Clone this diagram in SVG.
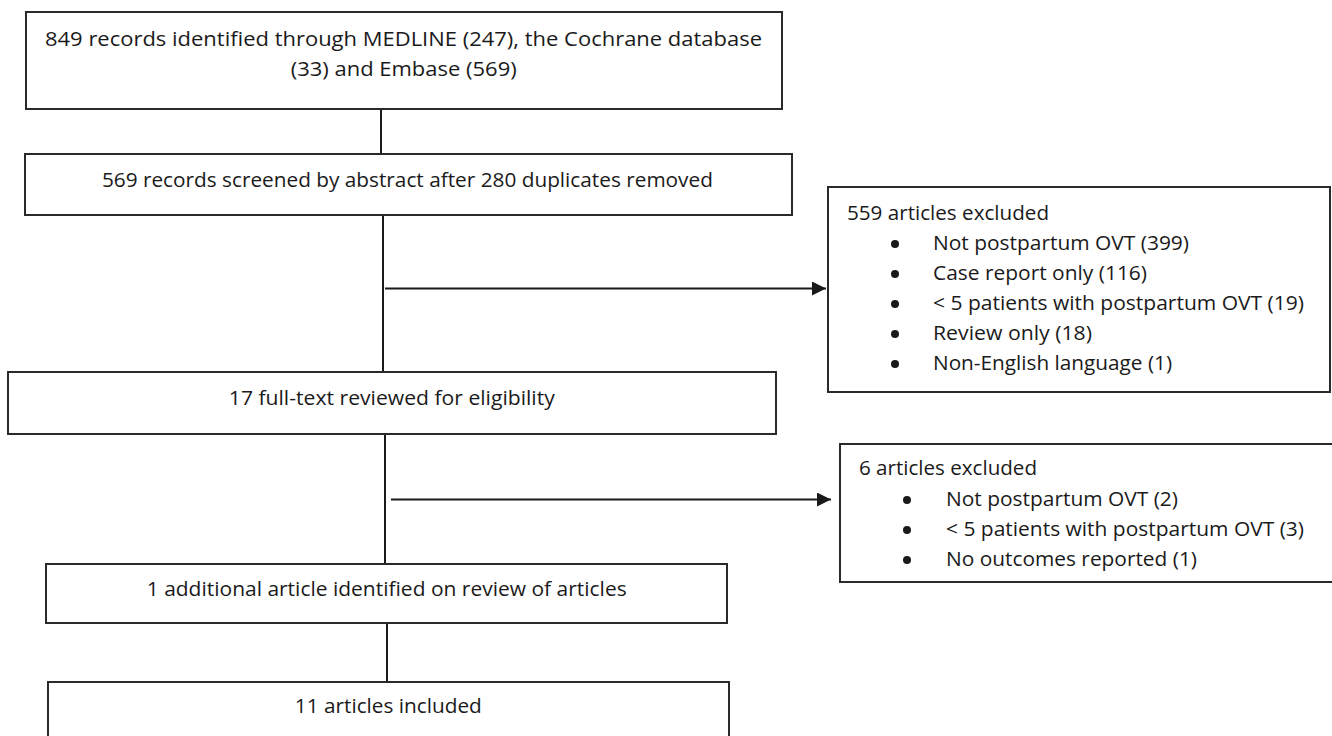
<svg xmlns="http://www.w3.org/2000/svg" width="1332" height="736" viewBox="0 0 1332 736">
  <defs>
    <marker id="arrow" markerUnits="userSpaceOnUse" markerWidth="15" markerHeight="15" refX="14" refY="7" orient="auto">
      <path d="M0,0 L14,7 L0,14 z" fill="#1a1a1a"/>
    </marker>
    <style>
      .box { fill: #ffffff; stroke: #2a2a2a; stroke-width: 2; }
      .conn { stroke: #1a1a1a; stroke-width: 2; fill: none; }
      .t { font-family: "Open Sans", "Liberation Sans", Arial, sans-serif; font-size: 19.6px; fill: #1a1a1a; }
      .tc { text-anchor: middle; }
      .dot { fill: #1a1a1a; }
    </style>
  </defs>
  <rect x="0" y="0" width="1332" height="736" fill="#ffffff"/>

  <g id="connectors">
    <line class="conn" x1="381" y1="109" x2="381" y2="154"/>
    <line class="conn" x1="383" y1="215" x2="383" y2="372"/>
    <line class="conn" x1="385" y1="288.5" x2="826" y2="288.5" marker-end="url(#arrow)"/>
    <line class="conn" x1="385" y1="434" x2="385" y2="564"/>
    <line class="conn" x1="391" y1="499.5" x2="831" y2="499.5" marker-end="url(#arrow)"/>
    <line class="conn" x1="387" y1="623" x2="387" y2="682"/>
  </g>

  <g id="node-identified">
    <rect class="box" x="26" y="12" width="756" height="97"/>
    <text class="t tc" x="403.5" y="46" textLength="717" lengthAdjust="spacingAndGlyphs">849 records identified through MEDLINE (247), the Cochrane database</text>
    <text class="t tc" x="403.7" y="76" textLength="226" lengthAdjust="spacingAndGlyphs">(33) and Embase (569)</text>
  </g>

  <g id="node-screened">
    <rect class="box" x="25" y="154" width="767" height="61"/>
    <text class="t tc" x="407.4" y="186.5" textLength="611" lengthAdjust="spacingAndGlyphs">569 records screened by abstract after 280 duplicates removed</text>
  </g>

  <g id="node-excluded-559">
    <rect class="box" x="828" y="187" width="502" height="205"/>
    <text class="t" x="847" y="220" textLength="202" lengthAdjust="spacingAndGlyphs">559 articles excluded</text>
    <circle class="dot" cx="895" cy="244" r="4"/>
    <text class="t" x="933" y="250" textLength="256" lengthAdjust="spacingAndGlyphs">Not postpartum OVT (399)</text>
    <circle class="dot" cx="895" cy="274" r="4"/>
    <text class="t" x="933" y="280" textLength="214" lengthAdjust="spacingAndGlyphs">Case report only (116)</text>
    <circle class="dot" cx="895" cy="304" r="4"/>
    <text class="t" x="933" y="310" textLength="371" lengthAdjust="spacingAndGlyphs">&lt; 5 patients with postpartum OVT (19)</text>
    <circle class="dot" cx="895" cy="334" r="4"/>
    <text class="t" x="933" y="340" textLength="159" lengthAdjust="spacingAndGlyphs">Review only (18)</text>
    <circle class="dot" cx="895" cy="364" r="4"/>
    <text class="t" x="933" y="370" textLength="239" lengthAdjust="spacingAndGlyphs">Non-English language (1)</text>
  </g>

  <g id="node-fulltext">
    <rect class="box" x="8" y="372" width="768" height="62"/>
    <text class="t tc" x="391.8" y="405" textLength="326" lengthAdjust="spacingAndGlyphs">17 full-text reviewed for eligibility</text>
  </g>

  <g id="node-excluded-6">
    <rect class="box" x="840" y="444" width="510" height="138"/>
    <text class="t" x="859" y="475" textLength="178" lengthAdjust="spacingAndGlyphs">6 articles excluded</text>
    <circle class="dot" cx="907" cy="500" r="4"/>
    <text class="t" x="946" y="506" textLength="232" lengthAdjust="spacingAndGlyphs">Not postpartum OVT (2)</text>
    <circle class="dot" cx="907" cy="530" r="4"/>
    <text class="t" x="946" y="536" textLength="358" lengthAdjust="spacingAndGlyphs">&lt; 5 patients with postpartum OVT (3)</text>
    <circle class="dot" cx="907" cy="560" r="4"/>
    <text class="t" x="946" y="566" textLength="251" lengthAdjust="spacingAndGlyphs">No outcomes reported (1)</text>
  </g>

  <g id="node-additional">
    <rect class="box" x="46" y="564" width="681" height="59"/>
    <text class="t tc" x="386.7" y="596" textLength="480" lengthAdjust="spacingAndGlyphs">1 additional article identified on review of articles</text>
  </g>

  <g id="node-included">
    <rect class="box" x="48" y="682" width="681" height="70"/>
    <text class="t tc" x="388.3" y="713" textLength="187" lengthAdjust="spacingAndGlyphs">11 articles included</text>
  </g>
</svg>
